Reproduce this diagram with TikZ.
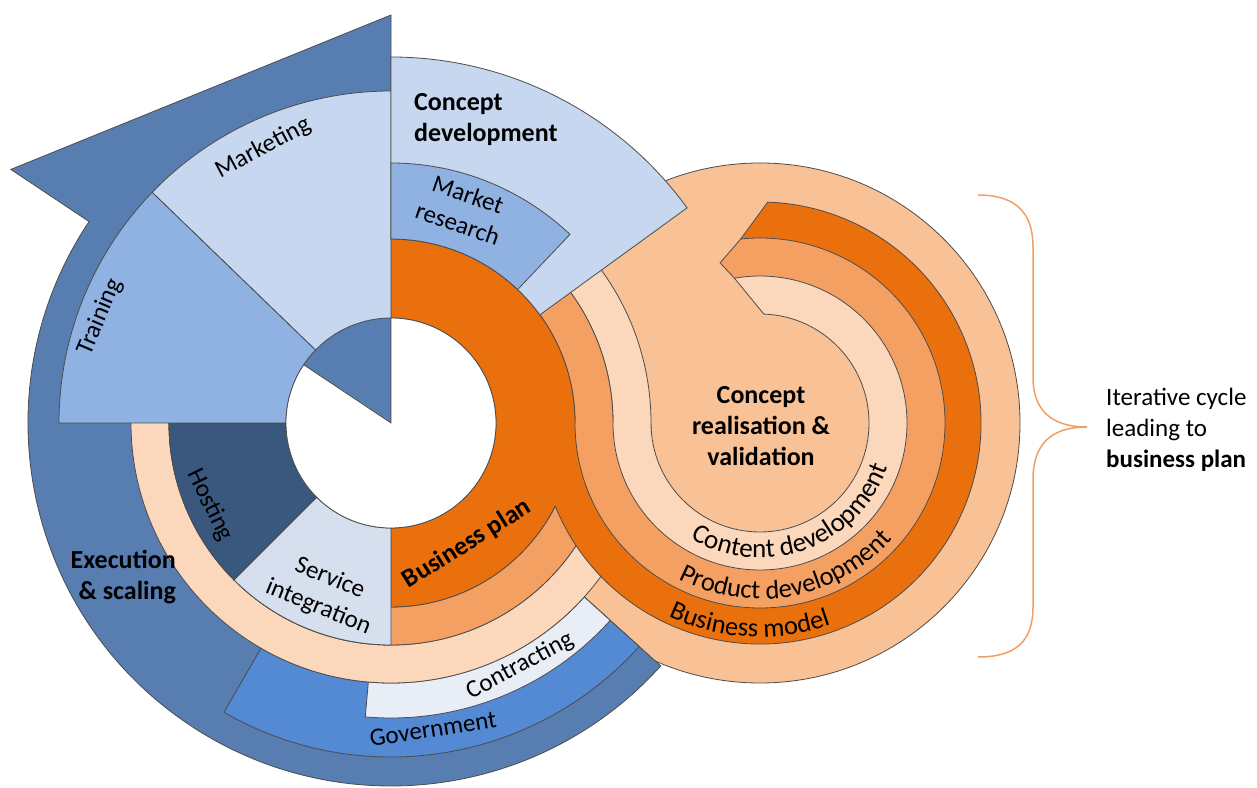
\documentclass[tikz,border=0pt]{standalone}
\usepackage{fontspec}
\setmainfont{Carlito}
\usetikzlibrary{calc,decorations.text}

\definecolor{execblue}{RGB}{87,125,177}
\definecolor{paleblue}{RGB}{198,215,239}
\definecolor{midblue}{RGB}{143,178,226}
\definecolor{navyblue}{RGB}{58,87,125}
\definecolor{greyblue}{RGB}{214,223,237}
\definecolor{govblue}{RGB}{84,137,212}
\definecolor{icyblue}{RGB}{233,238,246}
\definecolor{planorange}{RGB}{234,112,13}
\definecolor{midorange}{RGB}{244,160,98}
\definecolor{paleorange}{RGB}{251,216,188}
\definecolor{discpeach}{RGB}{248,193,150}
\definecolor{bracecol}{RGB}{240,160,100}

\begin{document}
\begin{tikzpicture}[x=1pt,y=1pt,
    ring/.style={draw=black!70,line width=0.8pt},
    every node/.style={font=\fontsize{25}{31}\selectfont,inner sep=0pt},
    boldlabel/.style={font=\fontsize{26}{31}\selectfont\bfseries}]
    \useasboundingbox (0,0) rectangle (1257,787);
    \coordinate (C) at (391,364);
    \coordinate (D) at (760,364);

    % right circle
    \filldraw[ring,fill=discpeach] (D) circle[radius=260];

    % execution & scaling arrow
    \filldraw[ring,fill=execblue] ($(C)+(90:408)$) -- ($(C)+(146.3:457)$) -- ($(C)+(146.3:363)$)
        arc[start angle=146.3,end angle=318,radius=363] -- (C) -- cycle;
    \filldraw[ring,fill=govblue] ($(C)+(240:334)$) arc[start angle=240,end angle=318,radius=334]
        -- ($(C)+(318:260)$) arc[start angle=318,end angle=240,radius=260] -- cycle;
    \filldraw[ring,fill=icyblue] ($(C)+(265:295)$) arc[start angle=265,end angle=318,radius=295]
        -- ($(C)+(318:260)$) arc[start angle=318,end angle=265,radius=260] -- cycle;

    % rings of the left circle
    \filldraw[ring,fill=paleorange,even odd rule] (C) circle[radius=260] (C) circle[radius=222];
    \filldraw[ring,fill=midorange,even odd rule] (C) circle[radius=222] (C) circle[radius=184];
    \filldraw[ring,fill=planorange] ($(C)+(-90:184)$) arc[start angle=-90,end angle=90,radius=184]
        -- ($(C)+(90:105)$) arc[start angle=90,end angle=-90,radius=105] -- cycle;
    \filldraw[ring,fill=navyblue] ($(C)+(180:222)$) arc[start angle=180,end angle=225,radius=222]
        -- ($(C)+(225:105)$) arc[start angle=225,end angle=180,radius=105] -- cycle;
    \filldraw[ring,fill=greyblue] ($(C)+(225:222)$) arc[start angle=225,end angle=270,radius=222]
        -- ($(C)+(270:105)$) arc[start angle=270,end angle=225,radius=105] -- cycle;
    \filldraw[ring,fill=paleblue] ($(C)+(90:332)$) arc[start angle=90,end angle=136,radius=332]
        -- ($(C)+(136:105)$) arc[start angle=136,end angle=90,radius=105] -- cycle;
    \filldraw[ring,fill=midblue] ($(C)+(136:332)$) arc[start angle=136,end angle=180,radius=332]
        -- ($(C)+(180:105)$) arc[start angle=180,end angle=136,radius=105] -- cycle;
    \filldraw[ring,fill=white] (C) -- ($(C)+(146.3:105)$) arc[start angle=146.3,end angle=450,radius=105] -- cycle;

    % spiral bands of the right circle
    \fill[planorange] ($(D)+(180:221)$) arc[start angle=180,end angle=448,radius=221]
        -- ($(D)+(456:185)$) arc[start angle=456,end angle=180,radius=185] -- cycle;
    \fill[midorange] ($(D)+(180:185)$) arc[start angle=180,end angle=456,radius=185]
        -- ($(D)+(464:165)$) -- ($(D)+(460:147)$) arc[start angle=460,end angle=180,radius=147] -- cycle;
    \fill[paleorange] ($(D)+(180:147)$) arc[start angle=180,end angle=460,radius=147]
        -- ($(D)+(448:109)$) arc[start angle=448,end angle=180,radius=109] -- cycle;
    \draw[ring] ($(D)+(202:221)$) arc[start angle=202,end angle=448,radius=221]
        -- ($(D)+(456:185)$) -- ($(D)+(464:165)$) -- ($(D)+(460:147)$) -- ($(D)+(448:109)$);
    \draw[ring] ($(D)+(180:185)$) arc[start angle=180,end angle=456,radius=185];
    \draw[ring] ($(D)+(180:147)$) arc[start angle=180,end angle=460,radius=147];
    \draw[ring] ($(D)+(180:109)$) arc[start angle=180,end angle=448,radius=109];

    % concept development sectors
    \filldraw[ring,fill=paleblue] ($(C)+(36:366)$) arc[start angle=36,end angle=90,radius=366]
        -- ($(C)+(90:184)$) arc[start angle=90,end angle=36,radius=184] -- cycle;
    \filldraw[ring,fill=midblue] ($(C)+(46.5:260)$) arc[start angle=46.5,end angle=90,radius=260]
        -- ($(C)+(90:184)$) arc[start angle=90,end angle=46.5,radius=184] -- cycle;

    % labels
    \node[boldlabel,align=left,anchor=north west] (cdev) at (414,694) {Concept\\development};
    \node[align=center,rotate=-19] (mres) at (463,578) {Market\\research};
    \node[rotate=28] (mkt) at (263,639) {Marketing};
    \node[rotate=67] (trn) at (100,470) {Training};
    \node[rotate=-64] (hst) at (210,282) {Hosting};
    \node[align=center,rotate=-22] (svc) at (324,194) {Service\\integration};
    \node[boldlabel,rotate=32] (bplan) at (467,243) {Business plan};
    \node[boldlabel,align=right,anchor=east] (exec) at (176,210) {Execution\\\& scaling};
    \node[rotate=28] (ctr) at (520,121) {Contracting};
    \node[rotate=9] (gov) at (433,58) {Government};
    \node[boldlabel,align=center] (creal) at (761,361) {Concept\\realisation \&\\validation};
    \path[decorate,decoration={text along path,text align=center,
        text={|\fontsize{27}{27}\selectfont|Content development}}]
        ($(D)+(210:135)$) arc[start angle=210,end angle=370,radius=135];
    \path[decorate,decoration={text along path,text align=center,
        text={|\fontsize{26.5}{26.5}\selectfont|Product development}}]
        ($(D)+(200.5:176)$) arc[start angle=200.5,end angle=360.5,radius=176];
    \path[decorate,decoration={text along path,text align=center,
        text={|\fontsize{26.5}{26.5}\selectfont|Business model}}]
        ($(D)+(187:214)$) arc[start angle=187,end angle=347,radius=214];

    % brace and note
    \draw[bracecol,line width=1.5pt] (978,592) .. controls (1015,592) and (1033,575) .. (1033,540)
        -- (1033,410) .. controls (1033,378) and (1050,360) .. (1087,360)
        .. controls (1050,360) and (1033,342) .. (1033,307)
        -- (1033,180) .. controls (1033,145) and (1015,130) .. (978,130);
    \node[align=left,anchor=west] (iter) at (1106,357) {Iterative cycle\\leading to\\\textbf{business plan}};
\end{tikzpicture}
\end{document}
